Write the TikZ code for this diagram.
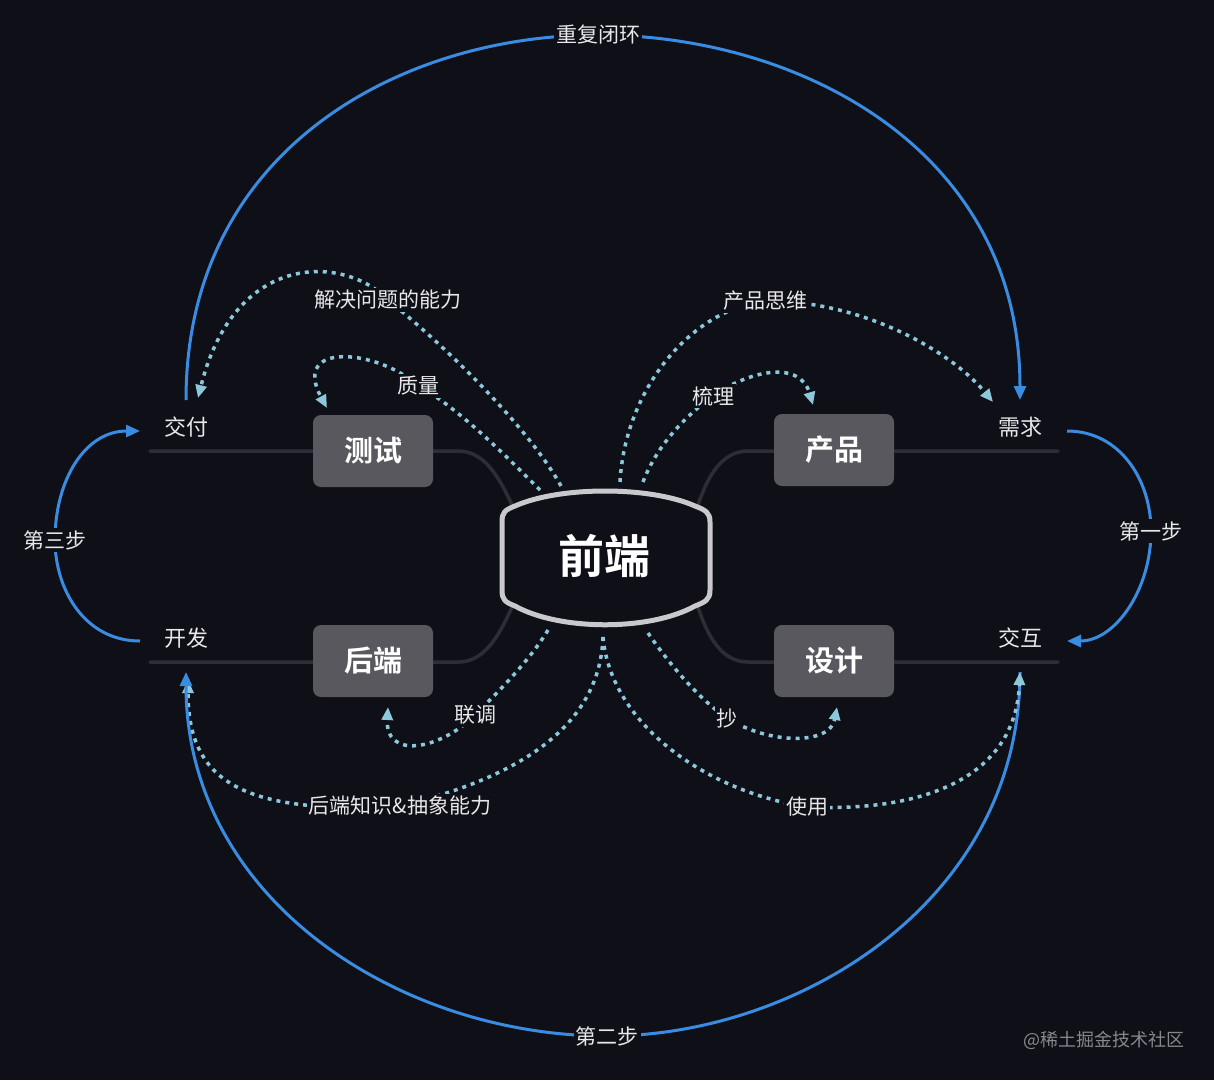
\documentclass[tikz,border=0pt]{standalone}
\usepackage{fontspec}
\setmainfont{Noto Sans CJK SC}[BoldFont={Noto Sans CJK SC Bold}]
\usetikzlibrary{arrows.meta}
\definecolor{bg}{RGB}{15,16,23}
\definecolor{bluec}{RGB}{58,140,226}
\definecolor{lblue}{RGB}{140,200,220}
\definecolor{boxg}{RGB}{88,88,94}
\definecolor{linkg}{RGB}{44,45,54}
\definecolor{rimg}{RGB}{200,200,205}
\definecolor{txt}{RGB}{232,232,234}
\definecolor{wmark}{RGB}{135,135,140}
\begin{document}
\begin{tikzpicture}[x=1pt,y=-1pt,
 grbox/.style={rectangle,rounded corners=8pt,fill=boxg,minimum width=120pt,minimum height=72pt,text=white,font=\bfseries\fontsize{29}{30}\selectfont,inner sep=0pt},
 lbl/.style={text=txt,font=\fontsize{22}{24}\selectfont,inner sep=1.5pt},
 ltag/.style={text=txt,fill=bg,font=\fontsize{21}{23}\selectfont,inner sep=2pt},
 bluearrow/.style={draw=bluec,line width=3pt,-{Triangle[length=14pt,width=12pt]}},
 dotarrow/.style={draw=lblue,line width=3.5pt,dash pattern=on 4pt off 5pt,-{Triangle[length=13pt,width=11pt]}},
 linkline/.style={draw=linkg,line width=3.5pt,line cap=round},
 rim/.style={draw=rimg,line width=5pt,fill=bg},
]
\fill[bg] (0,0) rectangle (1214,1080);
\useasboundingbox (0,0) rectangle (1214,1080);

% coordinates
\coordinate (jfLine) at (150,451);
\coordinate (kfLine) at (150,662);
\coordinate (xqLine) at (1058,451);
\coordinate (jhLine) at (1058,662);
\coordinate (feTL) at (512,505);
\coordinate (feBL) at (512,607);
\coordinate (feTR) at (698,505);
\coordinate (feBR) at (698,607);

\coordinate (jfTop) at (186,400);
\coordinate (xqTop) at (1020,400);
\coordinate (xqR) at (1067,431);
\coordinate (jhR) at (1067,641);
\coordinate (jhBot) at (1020,672);
\coordinate (kfBot) at (186,672);
\coordinate (kfL) at (140,641);
\coordinate (jfL) at (140,431);

\coordinate (pCycle) at (598,35);
\coordinate (pStep1) at (1151,531);
\coordinate (pStep2) at (607,1036);
\coordinate (pStep3) at (55,540);

\coordinate (feT1) at (561,486);
\coordinate (feT2) at (540,490);
\coordinate (feT3) at (620,482);
\coordinate (feT4) at (643,482);
\coordinate (feB1) at (548,630);
\coordinate (feB2) at (603,637);
\coordinate (feB3) at (648,633);

\coordinate (jfArr) at (198,398);
\coordinate (csArr) at (327,408);
\coordinate (xqArr) at (993,402);
\coordinate (cpArr) at (813,405);
\coordinate (hdArr) at (388,707);
\coordinate (kfArr) at (188,680);
\coordinate (sjArr) at (837,707);

\coordinate (pL1) at (388,300);
\coordinate (pQ) at (418,386);
\coordinate (pP) at (765,301);
\coordinate (pS) at (713,396);
\coordinate (pLt) at (475,715);
\coordinate (pB) at (400,806);
\coordinate (pC) at (727,718);
\coordinate (pU) at (807,807);

% grey link lines
\draw[linkline] (jfLine) -- (458,451) .. controls (482,451) and (497,472) .. (feTL);
\draw[linkline] (kfLine) -- (458,662) .. controls (482,662) and (497,641) .. (feBL);
\draw[linkline] (xqLine) -- (748,451) .. controls (724,451) and (709,472) .. (feTR);
\draw[linkline] (jhLine) -- (748,662) .. controls (724,662) and (709,641) .. (feBR);

% centre shape
\draw[rim] (502,522) .. controls (502,512) and (505,510) .. (515,506)
  .. controls (560,486) and (650,486) .. (695,506)
  .. controls (705,510) and (710,512) .. (710,522) -- (710,590)
  .. controls (710,600) and (705,602) .. (695,606)
  .. controls (650,631) and (560,631) .. (515,606)
  .. controls (505,602) and (502,600) .. (502,590) -- cycle;
\node[text=white,font=\bfseries\fontsize{46}{48}\selectfont] (fe) at (604,556) {前端};

% boxes
\node[grbox] (cs) at (373,451) {测试};
\node[grbox] (hd) at (373,661) {后端};
\node[grbox] (cp) at (834,450) {产品};
\node[grbox] (sj) at (834,661) {设计};

% dotted arrow hidden under blue tip
\draw[dotarrow] (feB2) .. controls (600,720) and (530,775) .. (pB) .. controls (240,815) and (188,780) .. (kfArr);

% blue loop arrows
\draw[bluearrow] (jfTop) .. controls (186,150) and (400,35) .. (pCycle) .. controls (800,35) and (1020,150) .. (xqTop);
\draw[bluearrow] (xqR) .. controls (1120,431) and (1151,480) .. (pStep1) .. controls (1151,590) and (1115,641) .. (jhR);
\draw[bluearrow] (jhBot) .. controls (1020,900) and (800,1036) .. (pStep2) .. controls (400,1036) and (186,900) .. (kfBot);
\draw[bluearrow] (kfL) .. controls (85,641) and (55,590) .. (pStep3) .. controls (55,480) and (85,431) .. (jfL);

% dotted arrows
\draw[dotarrow] (feT1) .. controls (530,430) and (450,350) .. (pL1) .. controls (345,255) and (235,250) .. (jfArr);
\draw[dotarrow] (feT2) .. controls (505,455) and (455,405) .. (pQ) .. controls (380,350) and (290,340) .. (csArr);
\draw[dotarrow] (feT3) .. controls (625,390) and (690,310) .. (pP) .. controls (860,300) and (950,350) .. (xqArr);
\draw[dotarrow] (feT4) .. controls (655,450) and (680,420) .. (pS) .. controls (750,370) and (800,360) .. (cpArr);
\draw[dotarrow] (feB1) .. controls (530,660) and (500,690) .. (pLt) .. controls (440,750) and (385,760) .. (hdArr);
\draw[dotarrow] (feB3) .. controls (670,665) and (700,700) .. (pC) .. controls (770,745) and (830,745) .. (sjArr);
\draw[dotarrow] (feB2) .. controls (610,720) and (700,790) .. (pU) .. controls (920,812) and (1015,780) .. (jhBot);

% stage labels
\node[lbl] (jf) at (186,427) {交付};
\node[lbl] (kf) at (186,638) {开发};
\node[lbl] (xq) at (1020,427) {需求};
\node[lbl] (jh) at (1020,638) {交互};

% loop labels
\node[ltag] (cyc) at (pCycle) {重复闭环};
\node[ltag] (s1) at (pStep1) {第一步};
\node[ltag] (s2) at (pStep2) {第二步};
\node[ltag] (s3) at (pStep3) {第三步};

% dotted labels
\node[ltag] (L1) at (pL1) {解决问题的能力};
\node[ltag] (Q) at (pQ) {质量};
\node[ltag] (P) at (pP) {产品思维};
\node[ltag] (S) at (pS) {梳理};
\node[ltag] (Lt) at (pLt) {联调};
\node[ltag] (B) at (pB) {后端知识\&抽象能力};
\node[ltag] (C) at (pC) {抄};
\node[ltag] (U) at (pU) {使用};

% watermark
\node[text=wmark,font=\fontsize{18}{20}\selectfont] (wm) at (1104,1040) {@稀土掘金技术社区};
\end{tikzpicture}
\end{document}
